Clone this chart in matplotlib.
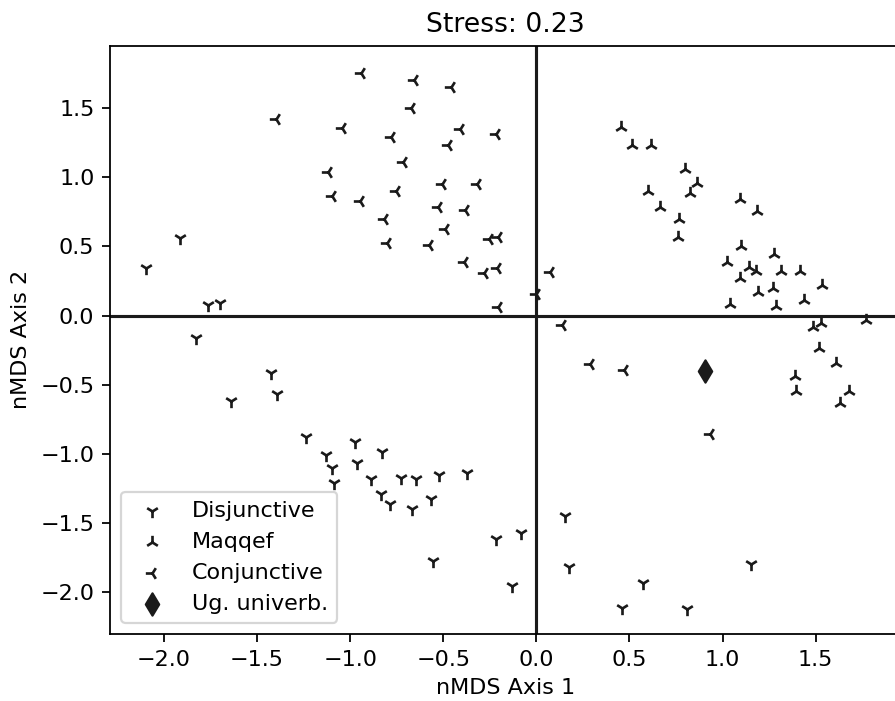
import matplotlib
matplotlib.use("Agg")
import matplotlib.pyplot as plt

# Disjunctive (tri_down)
disj_x = [-1.916, -2.094, -1.764, -1.697, -1.830, -1.423, -1.391, -1.638, -1.235,
          -0.972, -0.829, -1.132, -1.098, -0.963, -1.087, -0.890, -0.729, -0.644,
          -0.523, -0.371, -0.836, -0.788, -0.668, -0.564, -0.555, -0.215, -0.084,
          -0.131, 0.156, 0.173, 0.573, 0.462, 0.809, 1.155]
disj_y = [0.559, 0.342, 0.077, 0.089, -0.159, -0.416, -0.566, -0.614, -0.876,
          -0.915, -0.982, -1.006, -1.103, -1.067, -1.211, -1.182, -1.170, -1.182,
          -1.151, -1.134, -1.288, -1.361, -1.399, -1.324, -1.772, -1.615, -1.573,
          -1.953, -1.447, -1.813, -1.929, -2.114, -2.122, -1.796]

# Maqqef (tri_up)
maq_x = [0.453, 0.514, 0.614, 0.796, 0.863, 0.600, 0.827, 0.662, 0.766, 0.759,
         1.096, 1.187, 1.097, 1.276, 1.026, 1.140, 1.182, 1.312, 1.414, 1.096,
         1.532, 1.190, 1.271, 1.437, 1.038, 1.285, 1.769, 1.530, 1.486, 1.516,
         1.611, 1.391, 1.393, 1.677, 1.629]
maq_y = [1.361, 1.233, 1.233, 1.058, 0.961, 0.901, 0.889, 0.783, 0.699, 0.570,
         0.843, 0.759, 0.506, 0.446, 0.390, 0.350, 0.323, 0.325, 0.325, 0.270,
         0.222, 0.169, 0.198, 0.113, 0.085, 0.070, -0.031, -0.055, -0.084, -0.231,
         -0.340, -0.434, -0.544, -0.544, -0.633]

# Conjunctive (tri_left)
conj_x = [-1.396, -0.943, -0.659, -0.457, -0.675, -1.042, -0.412, -0.215, -0.779,
          -0.473, -0.718, -1.121, -0.509, -0.321, -1.096, -0.752, -0.947, -0.530,
          -0.381, -0.820, -0.492, -0.254, -0.206, -0.802, -0.575, -0.389, -0.281,
          -0.212, -0.206, 0.071, 0.000, 0.138, 0.286, 0.471, 0.931]
conj_y = [1.419, 1.756, 1.703, 1.655, 1.498, 1.358, 1.349, 1.311, 1.289,
          1.233, 1.113, 1.036, 0.949, 0.954, 0.867, 0.903, 0.831, 0.788,
          0.766, 0.699, 0.626, 0.552, 0.571, 0.525, 0.513, 0.390, 0.306,
          0.347, 0.065, 0.313, 0.157, -0.067, -0.349, -0.392, -0.857]

# Ug. univerb. (diamond)
ug_x = [0.904]
ug_y = [-0.400]

labels = ["Disjunctive", "Maqqef", "Conjunctive", "Ug. univerb."]
title = "Stress: 0.23"

W, H, DPI = 895, 701, 160
fig = plt.figure(figsize=(W / DPI, H / DPI), dpi=DPI)
xlim = (-2.29, 1.96)
ylim = (-2.30, 1.95)
pxu_x, pxu_y = 186.2, 138.4
left = 110 / W
bottom = (H - 634.0) / H
ax = fig.add_axes([left, bottom, (xlim[1] - xlim[0]) * pxu_x / W,
                   (ylim[1] - ylim[0]) * pxu_y / H])

c = "#1a1a1a"
ax.scatter(disj_x, disj_y, marker="1", color=c, s=36, linewidths=1.2, label=labels[0])
ax.scatter(maq_x, maq_y, marker="2", color=c, s=36, linewidths=1.2, label=labels[1])
ax.scatter(conj_x, conj_y, marker="3", color=c, s=36, linewidths=1.2, label=labels[2])
ax.scatter(ug_x, ug_y, marker="d", color=c, s=50, label=labels[3])

ax.axhline(0, color=c, lw=1.4, zorder=1)
ax.axvline(0, color=c, lw=1.4, zorder=1)

ax.set_xlim(*xlim)
ax.set_ylim(*ylim)
ax.set_title(title, fontsize=12)
ax.set_xlabel("nMDS Axis 1")
ax.set_ylabel("nMDS Axis 2")
ax.legend(loc="lower left")

fig.savefig("out.png", dpi=DPI)
